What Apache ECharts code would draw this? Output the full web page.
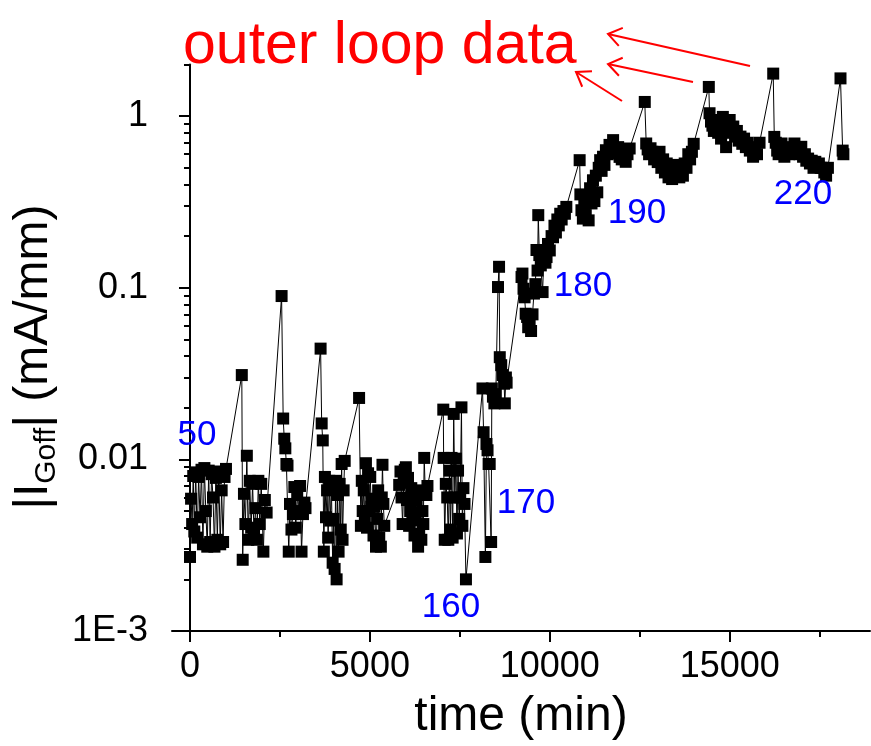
<!DOCTYPE html>
<html><head><meta charset="utf-8">
<script src="https://cdn.jsdelivr.net/npm/echarts@6/dist/echarts.min.js"></script>
<style>html,body{margin:0;padding:0;background:#fff}#chart{width:871px;height:746px}</style>
</head><body><div id="chart"></div>
<script>
// ---- data: [time (min), |I_Goff| (mA/mm)] ----
const grpA = [[0,0.0027],[30,0.0059],[60,0.0042],[90,0.0080],[120,0.0038],[160,0.0084],[200,0.0035],[240,0.0079],[280,0.0046],[320,0.0087],[360,0.0032],[400,0.0089],[440,0.0050],[480,0.0031],[520,0.0086],[560,0.0033],[600,0.0082],[640,0.0060],[680,0.0031],[720,0.0078],[760,0.0034],[800,0.0085],[840,0.0032],[880,0.0066],[920,0.0033],[960,0.0079],[1000,0.0088]];
const outer1 = [[1440,0.0310]];
const grpB = [[1465,0.0026],[1500,0.0063],[1540,0.0042],[1580,0.0105],[1620,0.0034],[1660,0.0075],[1700,0.0040],[1740,0.0072],[1780,0.0036],[1820,0.0052],[1860,0.0034],[1900,0.0075],[1940,0.0042],[1980,0.0072],[2040,0.0029],[2080,0.0058],[2130,0.0049]];
const outer2 = [[2546,0.0895]];
const grpC = [[2590,0.0173],[2620,0.0132],[2650,0.0116],[2680,0.0094],[2710,0.0092],[2745,0.0029],[2780,0.0055],[2820,0.0039],[2860,0.0048],[2900,0.0069],[2940,0.0040],[2980,0.0062],[3020,0.0050],[3060,0.0070],[3100,0.0029],[3140,0.0048],[3180,0.0056],[3210,0.0052]];
const outer3 = [[3630,0.0442]];
const grpD = [[3660,0.0162],[3690,0.0129],[3720,0.0029],[3750,0.0079],[3780,0.0046],[3810,0.0066],[3840,0.0035],[3870,0.0075],[3900,0.0044],[3930,0.0070],[3965,0.0025],[3990,0.0045],[4020,0.0023],[4050,0.0075],[4075,0.0020],[4100,0.0062],[4130,0.0029],[4160,0.0072],[4190,0.0039],[4215,0.0094],[4240,0.0034],[4270,0.0066],[4300,0.0098]];
const outer4 = [[4700,0.0228]];
const grpE = [[4750,0.0041],[4775,0.0075],[4800,0.0050],[4830,0.0066],[4860,0.0045],[4890,0.0095],[4920,0.0040],[4950,0.0083],[4980,0.0050],[5010,0.0079],[5040,0.0053],[5070,0.0059],[5100,0.0036],[5130,0.0053],[5170,0.0031],[5200,0.0045],[5230,0.0066],[5260,0.0035],[5305,0.0031],[5330,0.0060],[5350,0.0093],[5375,0.0055],[5400,0.0041]];
const grpF = [[5815,0.0071],[5850,0.0085],[5880,0.0060],[5910,0.0042],[5940,0.0073],[5970,0.0087],[6000,0.0090],[6030,0.0058],[6060,0.0078],[6090,0.0041],[6120,0.0050],[6150,0.0068],[6180,0.0044],[6210,0.0049],[6240,0.0036],[6270,0.0046],[6300,0.0058],[6340,0.0031],[6370,0.0037],[6400,0.0066],[6430,0.0034],[6460,0.0050],[6485,0.0042],[6510,0.0102],[6540,0.0065],[6570,0.0062],[6600,0.0070]];
const outer5 = [[7040,0.0195]];
const grpG = [[7050,0.0102],[7080,0.0034],[7110,0.0072],[7150,0.0060],[7180,0.0034],[7210,0.0086],[7240,0.0039],[7270,0.0102],[7300,0.0035],[7330,0.0184],[7360,0.0060],[7390,0.0101],[7420,0.0037],[7450,0.0086],[7480,0.0045],[7510,0.0060],[7545,0.0201],[7570,0.0041],[7600,0.0068],[7630,0.0055],[7670,0.0020]];
const grpH = [[8130,0.0259],[8160,0.0144],[8210,0.0027],[8240,0.0123],[8270,0.0113],[8300,0.0094],[8330,0.0094],[8370,0.0033],[8390,0.0259],[8420,0.0232],[8460,0.0212],[8500,0.0240],[8560,0.1010],[8590,0.1325],[8610,0.0394],[8650,0.0354],[8690,0.0310],[8730,0.0276],[8750,0.0212],[8780,0.0300],[8800,0.0280]];
const grpRise = [[9215,0.1155],[9240,0.1210],[9270,0.0987],[9300,0.0880],[9330,0.0706],[9370,0.0676],[9400,0.0589],[9440,0.0620],[9480,0.0560],[9520,0.0700],[9560,0.0925],[9600,0.1050],[9630,0.1660],[9660,0.1260],[9680,0.2650],[9710,0.1550],[9750,0.1350],[9800,0.0944],[9840,0.1600],[9880,0.1400],[9910,0.1510],[9950,0.1800],[10000,0.1650],[10050,0.2000],[10090,0.1970],[10130,0.2300],[10170,0.2100],[10210,0.2500],[10250,0.2310],[10290,0.2700],[10330,0.2500],[10380,0.2800],[10420,0.2700],[10460,0.2960]];
const outer6 = [[10830,0.554]];
const grpI = [[10850,0.350],[10880,0.283],[10920,0.253],[10960,0.300],[11000,0.265],[11040,0.330],[11080,0.247],[11120,0.380],[11160,0.310],[11200,0.423],[11240,0.320],[11280,0.450],[11320,0.360],[11360,0.500],[11400,0.554],[11440,0.480],[11480,0.580],[11520,0.520],[11560,0.633],[11610,0.600],[11660,0.680],[11710,0.640],[11760,0.725],[11800,0.650],[11850,0.610],[11900,0.660],[11940,0.579],[12000,0.560],[12060,0.600],[12110,0.542],[12160,0.600],[12220,0.648]];
const outer7 = [[12640,1.21]];
const grpJ = [[12680,0.693],[12720,0.640],[12760,0.600],[12800,0.650],[12850,0.620],[12900,0.560],[12950,0.600],[13000,0.540],[13050,0.620],[13100,0.500],[13150,0.560],[13200,0.470],[13250,0.530],[13300,0.440],[13350,0.500],[13400,0.430],[13450,0.480],[13500,0.520],[13550,0.460],[13600,0.440],[13650,0.500],[13700,0.450],[13750,0.530],[13800,0.500],[13850,0.600],[13900,0.560],[13950,0.620],[14000,0.690]];
const outer8 = [[14420,1.48]];
const grpK = [[14440,1.04],[14480,0.93],[14520,0.88],[14560,0.82],[14600,0.90],[14640,0.866],[14680,0.80],[14720,0.95],[14760,0.74],[14810,0.99],[14860,0.85],[14900,0.66],[14950,0.92],[15000,0.95],[15050,0.80],[15100,0.87],[15150,0.76],[15200,0.82],[15250,0.72],[15300,0.76],[15350,0.69],[15400,0.74],[15450,0.66],[15500,0.70],[15560,0.63],[15600,0.66],[15650,0.58],[15700,0.62],[15760,0.60],[15830,0.70]];
const outer9 = [[16210,1.77]];
const grpL = [[16240,0.757],[16280,0.70],[16320,0.63],[16360,0.60],[16400,0.66],[16440,0.693],[16480,0.64],[16520,0.58],[16560,0.62],[16600,0.633],[16650,0.60],[16700,0.66],[16750,0.63],[16800,0.693],[16850,0.62],[16900,0.66],[16940,0.60],[16990,0.663],[17040,0.58],[17090,0.60],[17130,0.55],[17180,0.566],[17230,0.53],[17280,0.55],[17330,0.50],[17380,0.542],[17430,0.51],[17480,0.53],[17530,0.50],[17580,0.50],[17630,0.47],[17680,0.45],[17730,0.50]];
const outer10 = [[18080,1.66]];
const grpM = [[18140,0.63],[18160,0.60]];

const xMajorTicks = [0, 5000, 10000, 15000];
const xMinorTicks = [2500, 7500, 12500, 17500];
const yMajorTicks = [0.001, 0.01, 0.1, 1];
const yTickLabels = ['1E-3', '0.01', '0.1', '1'];
const yMinorTicks = [0.002,0.003,0.004,0.005,0.006,0.007,0.008,0.009,0.02,0.03,0.04,0.05,0.06,0.07,0.08,0.09,0.2,0.3,0.4,0.5,0.6,0.7,0.8,0.9,2];
const cycleLabels = ['50', '160', '170', '180', '190', '220'];
const noteText = 'outer loop data';
const yTitle = '|I{sub|Goff}| (mA/mm)';

const series = [].concat(grpA, outer1, grpB, outer2, grpC, outer3, grpD, outer4, grpE, grpF, outer5, grpG, grpH, grpRise, outer6, grpI, outer7, grpJ, outer8, grpK, outer9, grpL, outer10, grpM);

const FONT = '"Liberation Sans", Arial, sans-serif';
const chart = echarts.init(document.getElementById('chart'), null, {renderer: 'canvas'});

// annotation geometry (pixels)
const labelPos = [[197,435],[451,607],[526,503],[583,286],[637,213],[803,194]];
const arrows = [[[750,66],[608,34]], [[693,82],[608,64]], [[622,101],[576,72]]];
const graphics = [];
cycleLabels.forEach((t, i) => graphics.push({type:'text', x: labelPos[i][0], y: labelPos[i][1], z: 100,
  style:{text:t, fill:'#0000ff', font:'35px ' + FONT, align:'center', verticalAlign:'middle'}}));
graphics.push({type:'text', x:183, y:47, z:100, style:{text:noteText, fill:'#ff0000', font:'59px ' + FONT, align:'left', verticalAlign:'middle'}});
graphics.push({type:'text', x:34, y:357, rotation:Math.PI/2, z:100,
  style:{text:yTitle, fill:'#000', fontSize:48, fontFamily:FONT, align:'center', verticalAlign:'middle',
    rich:{sub:{fontSize:30, fontFamily:FONT, fill:'#000', verticalAlign:'top', padding:[26,0,0,0]}}}});
arrows.forEach(a => {
  const [tail, tip] = a;
  const dx = tail[0]-tip[0], dy = tail[1]-tip[1];
  const L = Math.hypot(dx, dy), ux = dx/L, uy = dy/L;
  const ang = 35*Math.PI/180, w = 16;
  const w1 = [tip[0] + w*(ux*Math.cos(ang) - uy*Math.sin(ang)), tip[1] + w*(ux*Math.sin(ang) + uy*Math.cos(ang))];
  const w2 = [tip[0] + w*(ux*Math.cos(ang) + uy*Math.sin(ang)), tip[1] + w*(-ux*Math.sin(ang) + uy*Math.cos(ang))];
  const st = {stroke:'#ff0000', lineWidth:2, fill:null};
  graphics.push({type:'polyline', z:100, shape:{points:[tail, tip]}, style:st});
  graphics.push({type:'polyline', z:100, shape:{points:[w1, tip, w2]}, style:st});
});

const axisLineStyle = {color:'#000', width:2};
const tickStyle = {color:'#000', width:2};
chart.setOption({
  animation: false,
  backgroundColor: '#fff',
  grid: {left:172, right:1, top:64.5, bottom:115, containLabel:false, outerBoundsMode:'none'},
  xAxis: [{
    type:'value', min:-500, max:18900, position:'bottom',
    axisLine:{show:true, onZero:false, lineStyle:axisLineStyle},
    axisTick:{show:true, customValues:xMajorTicks, length:11, lineStyle:tickStyle},
    axisLabel:{show:true, customValues:xMajorTicks, fontSize:36, fontFamily:FONT, color:'#000', margin:18, formatter: v => String(v)},
    splitLine:{show:false},
    name:'time (min)', nameLocation:'middle', nameGap:62,
    nameTextStyle:{fontSize:48, fontFamily:FONT, color:'#000'}
  },{
    type:'value', min:-500, max:18900, position:'bottom',
    axisLine:{show:false, onZero:false},
    axisTick:{show:true, customValues:xMinorTicks, length:6, lineStyle:tickStyle},
    axisLabel:{show:false}, splitLine:{show:false}
  }],
  yAxis: [{
    type:'log', logBase:10, min:0.001, max:2, position:'left',
    axisLine:{show:true, lineStyle:axisLineStyle},
    axisTick:{show:true, customValues:yMajorTicks, length:11, lineStyle:tickStyle},
    axisLabel:{show:true, customValues:yMajorTicks, fontSize:36, fontFamily:FONT, color:'#000', margin:24,
      formatter: v => { const i = yMajorTicks.findIndex(t => Math.abs(t - v) / t < 1e-6); return i >= 0 ? yTickLabels[i] : ''; }},
    splitLine:{show:false}
  },{
    type:'log', logBase:10, min:0.001, max:2, position:'left',
    axisLine:{show:false},
    axisTick:{show:true, customValues:yMinorTicks, length:6, lineStyle:tickStyle},
    axisLabel:{show:false}, splitLine:{show:false}
  }],
  series: [{
    type:'line', xAxisIndex:0, yAxisIndex:0, data: series,
    symbol:'rect', symbolSize:12, showAllSymbol:true,
    itemStyle:{color:'#000'}, lineStyle:{color:'#000', width:1},
    emphasis:{disabled:true}
  }],
  graphic: graphics
});
</script></body></html>
